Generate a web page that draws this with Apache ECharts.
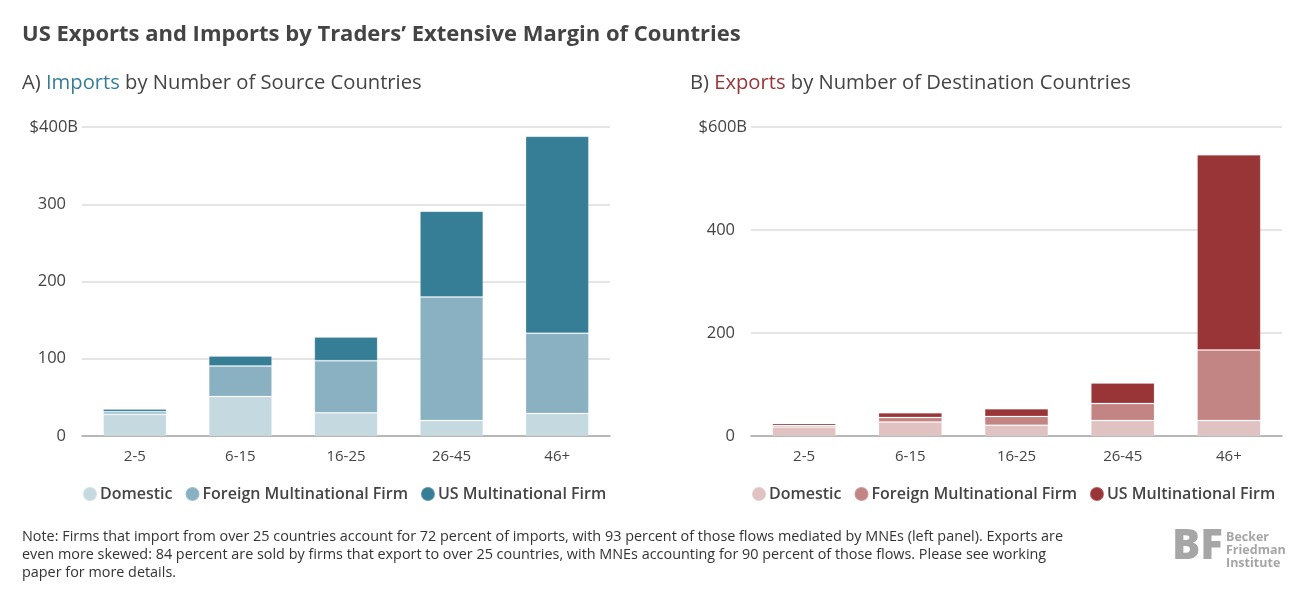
<!DOCTYPE html>
<html>
<head>
<meta charset="utf-8">
<script src="https://cdn.jsdelivr.net/npm/echarts@6/dist/echarts.min.js"></script>
<style>
  html, body { margin: 0; padding: 0; background: #fff; }
  #chart { width: 1311px; height: 598px; }
</style>
</head>
<body>
<div id="chart"></div>
<script>
// categories: number of partner countries
var categories = ['2-5', '6-15', '16-25', '26-45', '46+'];
var seriesNames = ['Domestic', 'Foreign Multinational Firm', 'US Multinational Firm'];

// A) imports, $B
var importDomestic = [28, 51, 30, 20, 29];
var importForeign = [3.5, 39.5, 67.5, 160, 104];
var importUS = [3.5, 13, 30.5, 111, 255];

// B) exports, $B
var exportDomestic = [17.5, 27, 21, 30, 30];
var exportForeign = [3, 9, 17, 33, 137];
var exportUS = [4, 9, 15, 40, 379];

var importTicks = {max: 400, interval: 100};
var exportTicks = {max: 600, interval: 200};

var blues = ['#c5d9e1', '#89b1c1', '#367d96'];
var reds = ['#e0c2c3', '#c28583', '#993437'];

var FONT = '"Open Sans", "Noto Sans", sans-serif';
var EXP = ' (Exports)';

function barSeries(name, data, color, idx) {
    return {
        name: name,
        type: 'bar',
        stack: 'total' + idx,
        xAxisIndex: idx,
        yAxisIndex: idx,
        barWidth: '60%',
        data: data,
        itemStyle: {color: color, borderColor: 'rgba(255,255,255,0.2)', borderWidth: 1},
        emphasis: {disabled: true}
    };
}

function xAx(idx) {
    return {
        type: 'category',
        gridIndex: idx,
        data: categories,
        axisTick: {show: false},
        axisLine: {lineStyle: {color: '#a8a8a8', width: 1.5}},
        axisLabel: {color: '#444', fontSize: 15, fontFamily: FONT, margin: 13}
    };
}

function yAx(idx, ticks) {
    return {
        type: 'value',
        gridIndex: idx,
        min: 0,
        max: ticks.max,
        interval: ticks.interval,
        axisLine: {show: false},
        axisTick: {show: false},
        splitLine: {lineStyle: {color: '#dcdcdc', width: 1.5}},
        axisLabel: {
            color: '#444', fontSize: 16.5, fontFamily: FONT, margin: 4,
            // "$" and "B" hang outside the number column on the top tick
            formatter: function (v) {
                return v === ticks.max ? '{t|$' + v + 'B}' : '{n|' + v + '}';
            },
            rich: {
                t: {color: '#444', fontSize: 16.5, fontFamily: FONT},
                n: {color: '#444', fontSize: 16.5, fontFamily: FONT, padding: [0, 12, 0, 0]}
            }
        }
    };
}

var chart = echarts.init(document.getElementById('chart'));
chart.setOption({
    backgroundColor: '#fff',
    animation: false,
    title: [
        {
            text: 'US Exports and Imports by Traders\u2019 Extensive Margin of Countries',
            left: 22, top: 24, padding: 0,
            textStyle: {color: '#444', fontSize: 22, fontWeight: 'bold', fontFamily: FONT}
        },
        {
            text: 'A) {imp|Imports} by Number of Source Countries',
            left: 22, top: 73, padding: 0,
            textStyle: {
                color: '#444', fontSize: 20.2, fontWeight: 'normal', fontFamily: FONT,
                rich: {imp: {color: '#367d96', fontSize: 20.2, fontFamily: FONT}}
            }
        },
        {
            text: 'B) {exp|Exports} by Number of Destination Countries',
            left: 690, top: 73, padding: 0,
            textStyle: {
                color: '#444', fontSize: 20.2, fontWeight: 'normal', fontFamily: FONT,
                rich: {exp: {color: '#993437', fontSize: 20.2, fontFamily: FONT}}
            }
        },
        {
            text: 'Note: Firms that import from over 25 countries account for 72 percent of imports, with 93 percent of those flows mediated by MNEs (left panel). Exports are\n' +
                'even more skewed: 84 percent are sold by firms that export to over 25 countries, with MNEs accounting for 90 percent of those flows. Please see working\n' +
                'paper for more details.',
            left: 22, top: 528, padding: 0,
            textStyle: {color: '#333', fontSize: 14.4, fontWeight: 'normal', fontFamily: FONT, lineHeight: 18}
        },
        {
            text: 'BF',
            left: 1172, top: 526, padding: 0,
            textStyle: {color: '#a6a6a6', fontSize: 42, fontWeight: 900, fontFamily: FONT}
        },
        {
            text: 'Becker\nFriedman\nInstitute',
            left: 1226, top: 531, padding: 0,
            textStyle: {color: '#a6a6a6', fontSize: 12.5, fontWeight: 'bold', fontFamily: FONT, lineHeight: 13}
        }
    ],
    legend: [
        {
            data: seriesNames,
            left: 82, top: 486, padding: 0,
            icon: 'circle', itemWidth: 14, itemHeight: 14, itemGap: 12,
            selectedMode: false,
            textStyle: {color: '#444', fontSize: 16, fontWeight: 600, fontFamily: FONT, padding: [0, 0, 0, -2]}
        },
        {
            data: seriesNames.map(function (n) { return n + EXP; }),
            left: 751, top: 486, padding: 0,
            icon: 'circle', itemWidth: 14, itemHeight: 14, itemGap: 12,
            selectedMode: false,
            formatter: function (n) { return n.replace(EXP, ''); },
            textStyle: {color: '#444', fontSize: 16, fontWeight: 600, fontFamily: FONT, padding: [0, 0, 0, -2]}
        }
    ],
    grid: [
        {left: 82, top: 127, width: 528, height: 309},
        {left: 751, top: 127, width: 531, height: 309}
    ],
    xAxis: [xAx(0), xAx(1)],
    yAxis: [yAx(0, importTicks), yAx(1, exportTicks)],
    series: [
        barSeries(seriesNames[0], importDomestic, blues[0], 0),
        barSeries(seriesNames[1], importForeign, blues[1], 0),
        barSeries(seriesNames[2], importUS, blues[2], 0),
        barSeries(seriesNames[0] + EXP, exportDomestic, reds[0], 1),
        barSeries(seriesNames[1] + EXP, exportForeign, reds[1], 1),
        barSeries(seriesNames[2] + EXP, exportUS, reds[2], 1)
    ]
});
</script>
</body>
</html>
